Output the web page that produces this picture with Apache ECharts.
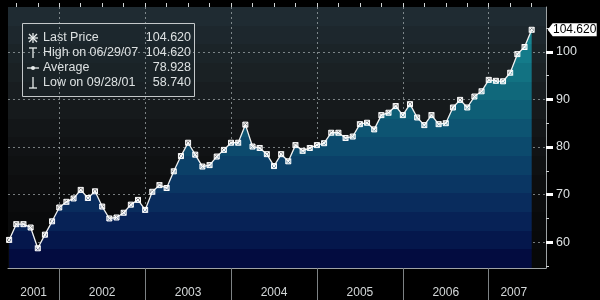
<!DOCTYPE html>
<html><head><meta charset="utf-8">
<script src="https://cdn.jsdelivr.net/npm/echarts@6/dist/echarts.min.js"></script>
<style>html,body{margin:0;padding:0;background:#000;}#c{width:600px;height:300px;}</style>
</head><body><div id="c"></div>
<script>
// ---- data (month-end closes) ----
const months = [
 '2001-05','2001-06','2001-07','2001-08','2001-09','2001-10','2001-11','2001-12',
 '2002-01','2002-02','2002-03','2002-04','2002-05','2002-06','2002-07','2002-08','2002-09','2002-10','2002-11','2002-12',
 '2003-01','2003-02','2003-03','2003-04','2003-05','2003-06','2003-07','2003-08','2003-09','2003-10','2003-11','2003-12',
 '2004-01','2004-02','2004-03','2004-04','2004-05','2004-06','2004-07','2004-08','2004-09','2004-10','2004-11','2004-12',
 '2005-01','2005-02','2005-03','2005-04','2005-05','2005-06','2005-07','2005-08','2005-09','2005-10','2005-11','2005-12',
 '2006-01','2006-02','2006-03','2006-04','2006-05','2006-06','2006-07','2006-08','2006-09','2006-10','2006-11','2006-12',
 '2007-01','2007-02','2007-03','2007-04','2007-05','2007-06'
];
const prices = [
 60.5, 63.8, 63.8, 63.1, 58.74, 61.6, 64.4, 67.3,
 68.5, 69.2, 71.0, 69.3, 70.7, 67.5, 65.0, 65.2, 66.2, 67.9, 68.9, 66.8,
 70.6, 72.0, 71.4, 74.9, 78.1, 80.9, 78.4, 75.9, 76.2, 78.0, 79.4, 80.9,
 80.9, 84.7, 80.1, 79.8, 78.5, 76.0, 78.5, 77.0, 80.4, 79.2, 79.8, 80.4,
 80.8, 83.0, 83.0, 81.9, 82.2, 84.8, 85.1, 83.7, 86.7, 87.2, 88.6, 86.7,
 89.0, 86.2, 84.6, 86.7, 84.8, 85.0, 88.3, 89.9, 88.3, 90.6, 91.7, 94.1,
 93.9, 93.8, 95.6, 99.5, 101.0, 104.62
];
const yMajorTicks = [60, 70, 80, 90, 100];
const yMinorTicks = [55, 65, 75, 85, 95, 105];
const yearLabels = ['2001','2002','2003','2004','2005','2006','2007'];
const legendLabels = ['Last Price', 'High on 06/29/07', 'Average', 'Low on 09/28/01'];
const legendValues = ['104.620', '104.620', '78.928', '58.740'];

// ---- derived ----
function monthIndex(s) { const p = s.split('-').map(Number); return (p[0] - 2001) * 12 + p[1]; }
const seriesData = months.map((m, i) => [monthIndex(m), prices[i]]);
const X_MIN = 4.84, X_MAX = 80, Y_MIN = 54.6, Y_MAX = 109.4;
const lastT = seriesData[seriesData.length - 1][0];
const lastPrice = prices[prices.length - 1];
const yearBounds = yearLabels.slice(1).map(y => (Number(y) - 2001) * 12);
const quarterTicks = [];
for (let t = 3; t <= X_MAX; t += 3) if (t > X_MIN) quarterTicks.push(t);
const yearLabelPos = yearLabels.map(y => {
  const s = (Number(y) - 2001) * 12, e = s + 12;
  return (Math.max(s, X_MIN) + Math.min(e, lastT + 1)) / 2;
});
function yearFor(v) {
  let best = 0;
  yearLabelPos.forEach((p, i) => { if (Math.abs(p - v) < Math.abs(yearLabelPos[best] - v)) best = i; });
  return yearLabels[best];
}

// ---- styles ----
function banded(cols) {
  const st = []; const n = cols.length;
  cols.forEach((c, i) => { st.push({offset: i / n, color: c}); st.push({offset: (i + 1) / n, color: c}); });
  return st;
}
const areaCols = ['#1a8e9a','#178592','#147b8a','#127282','#10687b','#0e5e76','#0d5472','#0c4a6d','#0b4068','#0a3663','#092c5d','#072256','#05174c','#030c40'];
const bgCols = ['#1f2b32','#1d272d','#1b2428','#1a2124','#181d20','#161a1c','#131618','#111315','#0f1112','#0d0e0f','#0b0c0d','#090a0b','#08090a','#070808'];
const GRID = {left: 8, right: 54, top: 7, bottom: 32};
const gridLine = {show: true, lineStyle: {color: 'rgba(190,198,200,0.6)', type: [2, 3], width: 1}};
const FONT = 'Liberation Sans, Arial, sans-serif';

const chart = echarts.init(document.getElementById('c'), null, {renderer: 'canvas'});

const legendRowsY = [38, 53, 68, 83];
const txtColor = '#dde1e2';
const legendChildren = [
  {type: 'rect', shape: {x: 22.5, y: 23.5, width: 172, height: 73}, style: {fill: 'rgba(30,40,45,0.35)', stroke: '#c4c8ca', lineWidth: 1}}
];
legendLabels.forEach((l, i) => {
  legendChildren.push({type: 'text', x: 43, y: legendRowsY[i], style: {text: l, fill: txtColor, font: '12.5px ' + FONT, textVerticalAlign: 'middle', textAlign: 'left'}});
  legendChildren.push({type: 'text', x: 191, y: legendRowsY[i], style: {text: legendValues[i], fill: txtColor, font: '12.5px ' + FONT, textVerticalAlign: 'middle', textAlign: 'right'}});
});
const ic = {stroke: '#e8ecec', lineWidth: 1.3};
const cx = 33;
[[cx - 5, 38, cx + 5, 38], [cx, 33, cx, 43], [cx - 4, 34, cx + 4, 42], [cx - 4, 42, cx + 4, 34]].forEach(s =>
  legendChildren.push({type: 'line', shape: {x1: s[0], y1: s[1], x2: s[2], y2: s[3]}, style: ic}));
legendChildren.push({type: 'line', shape: {x1: cx - 4, y1: 48, x2: cx + 4, y2: 48}, style: ic});
legendChildren.push({type: 'line', shape: {x1: cx, y1: 48, x2: cx, y2: 58}, style: ic});
legendChildren.push({type: 'line', shape: {x1: cx - 6, y1: 68, x2: cx + 6, y2: 68}, style: ic});
legendChildren.push({type: 'circle', shape: {cx: cx, cy: 68, r: 2}, style: {fill: '#e8ecec'}});
legendChildren.push({type: 'line', shape: {x1: cx, y1: 77, x2: cx, y2: 88}, style: ic});
legendChildren.push({type: 'line', shape: {x1: cx - 4, y1: 88, x2: cx + 4, y2: 88}, style: ic});

chart.setOption({
  animation: false,
  backgroundColor: '#000',
  grid: Object.assign({show: true, borderWidth: 0, outerBoundsMode: 'none',
    backgroundColor: {type: 'linear', x: 0, y: 0, x2: 0, y2: 1, colorStops: banded(bgCols)}}, GRID),
  xAxis: [
    {type: 'value', min: X_MIN, max: X_MAX,
     axisLine: {show: true, onZero: false, lineStyle: {color: '#9ea3a5', width: 1}},
     axisTick: {show: true, customValues: yearBounds, length: 34, lineStyle: {color: '#7d8284', width: 1}},
     splitLine: gridLine,
     axisLabel: {show: true, customValues: yearLabelPos, margin: 19, color: '#d4d8d9', fontSize: 12, fontFamily: FONT,
                 formatter: v => yearFor(v)}},
    {type: 'value', min: X_MIN, max: X_MAX,
     axisLine: {show: false, onZero: false},
     axisTick: {show: true, customValues: quarterTicks, length: 4, lineStyle: {color: '#d0d4d5', width: 1}},
     splitLine: {show: false}, axisLabel: {show: false}}
  ],
  yAxis: [
    {type: 'value', position: 'right', min: Y_MIN, max: Y_MAX,
     axisLine: {show: true, onZero: false, lineStyle: {color: '#9ea3a5', width: 1}},
     axisTick: {show: true, customValues: yMajorTicks, length: 7, lineStyle: {color: '#ffffff', width: 3}},
     splitLine: gridLine,
     axisLabel: {show: true, customValues: yMajorTicks, margin: 10, color: '#dde1e2', fontSize: 12.5, fontFamily: FONT}},
    {type: 'value', position: 'right', min: Y_MIN, max: Y_MAX,
     axisLine: {show: false, onZero: false},
     axisTick: {show: true, customValues: yMinorTicks, length: 3, lineStyle: {color: '#d0d4d5', width: 1}},
     splitLine: {show: false}, axisLabel: {show: false}}
  ],
  graphic: [{type: 'group', children: legendChildren, z: 100}],
  series: [{
    type: 'line', data: seriesData, xAxisIndex: 0, yAxisIndex: 0,
    symbol: 'path://M0,0H10V10H0ZM0,0L10,10M10,0L0,10', symbolSize: 5, showSymbol: true,
    itemStyle: {color: 'rgba(255,255,255,0.45)', borderColor: '#ffffff', borderWidth: 1},
    lineStyle: {color: '#f0f2f2', width: 1.3},
    areaStyle: {origin: 'start', opacity: 1,
      color: {type: 'linear', x: 0, y: GRID.top, x2: 0, y2: 300 - GRID.bottom, global: true, colorStops: banded(areaCols)}},
    markPoint: {
      symbol: 'path://M0,6.5L5,0H49V13H5Z', symbolSize: [49, 13], symbolKeepAspect: false,
      symbolOffset: [40.5, 0], silent: true,
      itemStyle: {color: '#ffffff', borderWidth: 0},
      label: {show: true, position: 'inside', color: '#000000', fontSize: 12, fontFamily: FONT, offset: [2.5, 0],
              formatter: () => lastPrice.toFixed(3)},
      data: [{coord: [lastT, lastPrice]}]
    }
  }]
});
</script></body></html>
